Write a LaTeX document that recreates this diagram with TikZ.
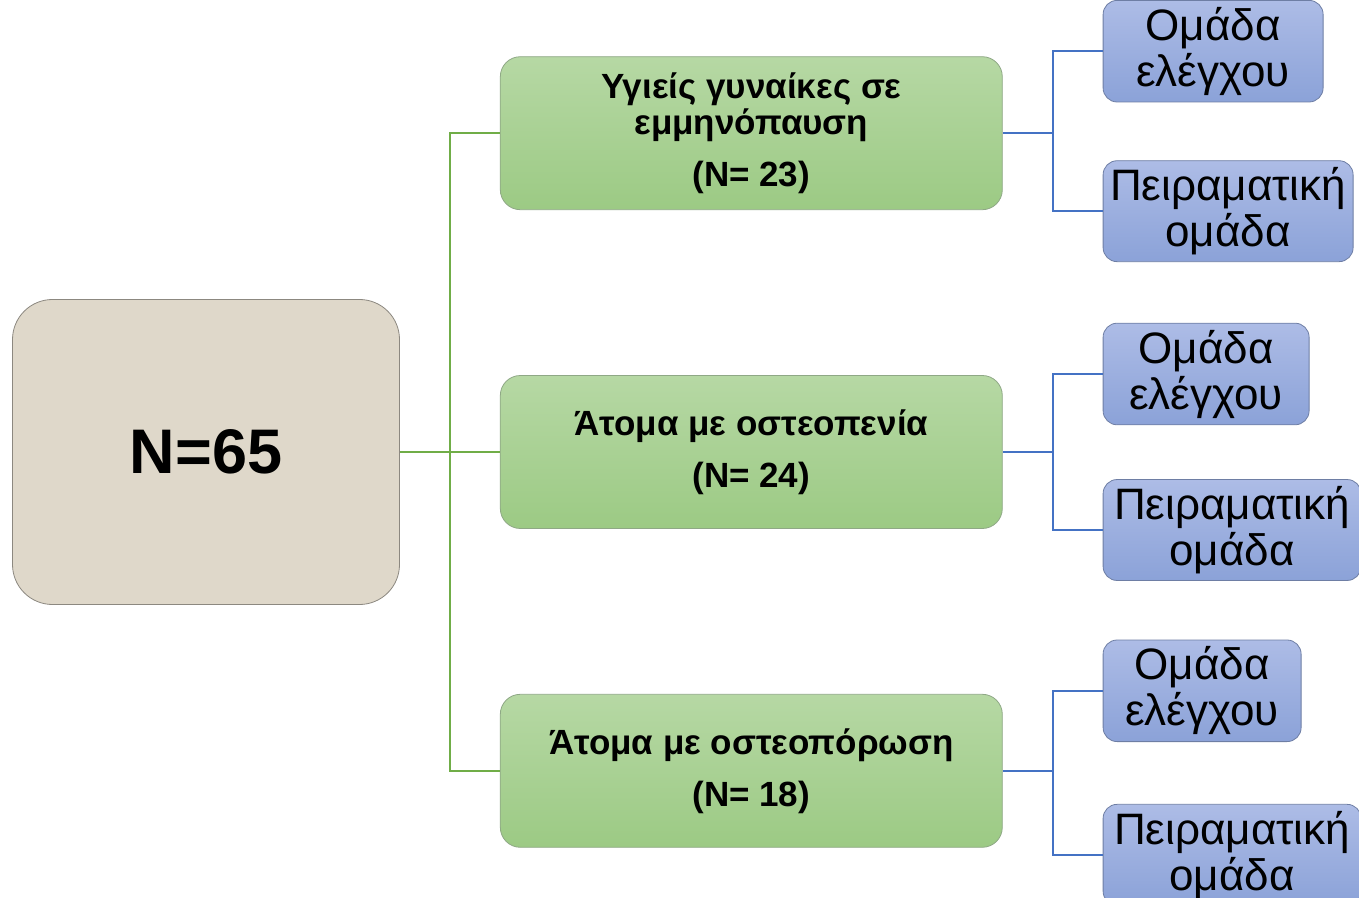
\documentclass[tikz,border=0pt]{standalone}
\usepackage{fontspec}
\setmainfont{Liberation Sans}
\usetikzlibrary{positioning}
\definecolor{paper}{HTML}{DFD8CA}
\definecolor{paperline}{HTML}{8C8880}
\definecolor{leaftop}{HTML}{B6D8A4}
\definecolor{leafbottom}{HTML}{9CCA84}
\definecolor{leafline}{HTML}{8FA886}
\definecolor{skytop}{HTML}{ADBCE6}
\definecolor{skybottom}{HTML}{8BA2D8}
\definecolor{skyline}{HTML}{6E7EA4}
\definecolor{greenwire}{HTML}{70AD47}
\definecolor{bluewire}{HTML}{4472C4}
\tikzset{
  total/.style = {rectangle,
                  draw = paperline,
                  fill = paper,
                  rounded corners = 20pt,
                  font = \fontsize{31.5}{36}\bfseries,
                  minimum width = 193.5pt,
                  minimum height = 152.5pt},
  cohort/.style = {rectangle,
                   draw = leafline,
                   top color = leaftop,
                   bottom color = leafbottom,
                   rounded corners = 10pt,
                   align = center,
                   font = \fontsize{17.5}{18}\bfseries,
                   minimum width = 251pt,
                   minimum height = 76.5pt},
  arm/.style = {rectangle,
                draw = skyline,
                top color = skytop,
                bottom color = skybottom,
                rounded corners = 7pt,
                align = center,
                font = \fontsize{22}{23}\selectfont,
                inner xsep = 3pt,
                minimum height = 49pt},
  greenline/.style = {draw = greenwire, line width = 0.9pt},
  blueline/.style = {draw = bluewire, line width = 0.9pt},
  elbow/.style = {to path = {-- ++(-25pt,0) |- (\tikztotarget)}}
}
\begin{document}
\begin{tikzpicture}

\useasboundingbox (0,0) rectangle (679.5pt,-449pt);

\node[total](total) at (103pt,-226pt){N=65};

\node[cohort](grp-osteopenia)[right = 50pt of total]{Άτομα με οστεοπενία\\[8pt](N= 24)};

\node[cohort](grp-healthy)[above = 82.5pt of grp-osteopenia]{Υγιείς γυναίκες σε\\εμμηνόπαυση\\[8pt](N= 23)};

\node[cohort](grp-osteoporosis)[below = 82.5pt of grp-osteopenia]{Άτομα με οστεοπόρωση\\[8pt](N= 18)};

\draw[greenline] (grp-healthy.west) to[elbow] (total.east);
\draw[greenline] (grp-osteopenia.west) to[elbow] (total.east);
\draw[greenline] (grp-osteoporosis.west) to[elbow] (total.east);

\node[arm, minimum width = 110pt](ctl-healthy)[right = 50pt of grp-healthy, yshift = 41pt]{Ομάδα\\ελέγχου};
\node[arm, minimum width = 125pt](exp-healthy)[right = 50pt of grp-healthy, yshift = -39pt]{Πειραματική\\ομάδα};

\node[arm, minimum width = 103pt](ctl-osteopenia)[right = 50pt of grp-osteopenia, yshift = 39pt]{Ομάδα\\ελέγχου};
\node[arm, minimum width = 129pt](exp-osteopenia)[right = 50pt of grp-osteopenia, yshift = -39pt]{Πειραματική\\ομάδα};

\node[arm, minimum width = 99pt](ctl-osteoporosis)[right = 50pt of grp-osteoporosis, yshift = 40pt]{Ομάδα\\ελέγχου};
\node[arm, minimum width = 129pt](exp-osteoporosis)[right = 50pt of grp-osteoporosis, yshift = -42pt]{Πειραματική\\ομάδα};

\draw[blueline] (ctl-healthy.west) to[elbow] (grp-healthy.east);
\draw[blueline] (exp-healthy.west) to[elbow] (grp-healthy.east);
\draw[blueline] (ctl-osteopenia.west) to[elbow] (grp-osteopenia.east);
\draw[blueline] (exp-osteopenia.west) to[elbow] (grp-osteopenia.east);
\draw[blueline] (ctl-osteoporosis.west) to[elbow] (grp-osteoporosis.east);
\draw[blueline] (exp-osteoporosis.west) to[elbow] (grp-osteoporosis.east);

\end{tikzpicture}
\end{document}
